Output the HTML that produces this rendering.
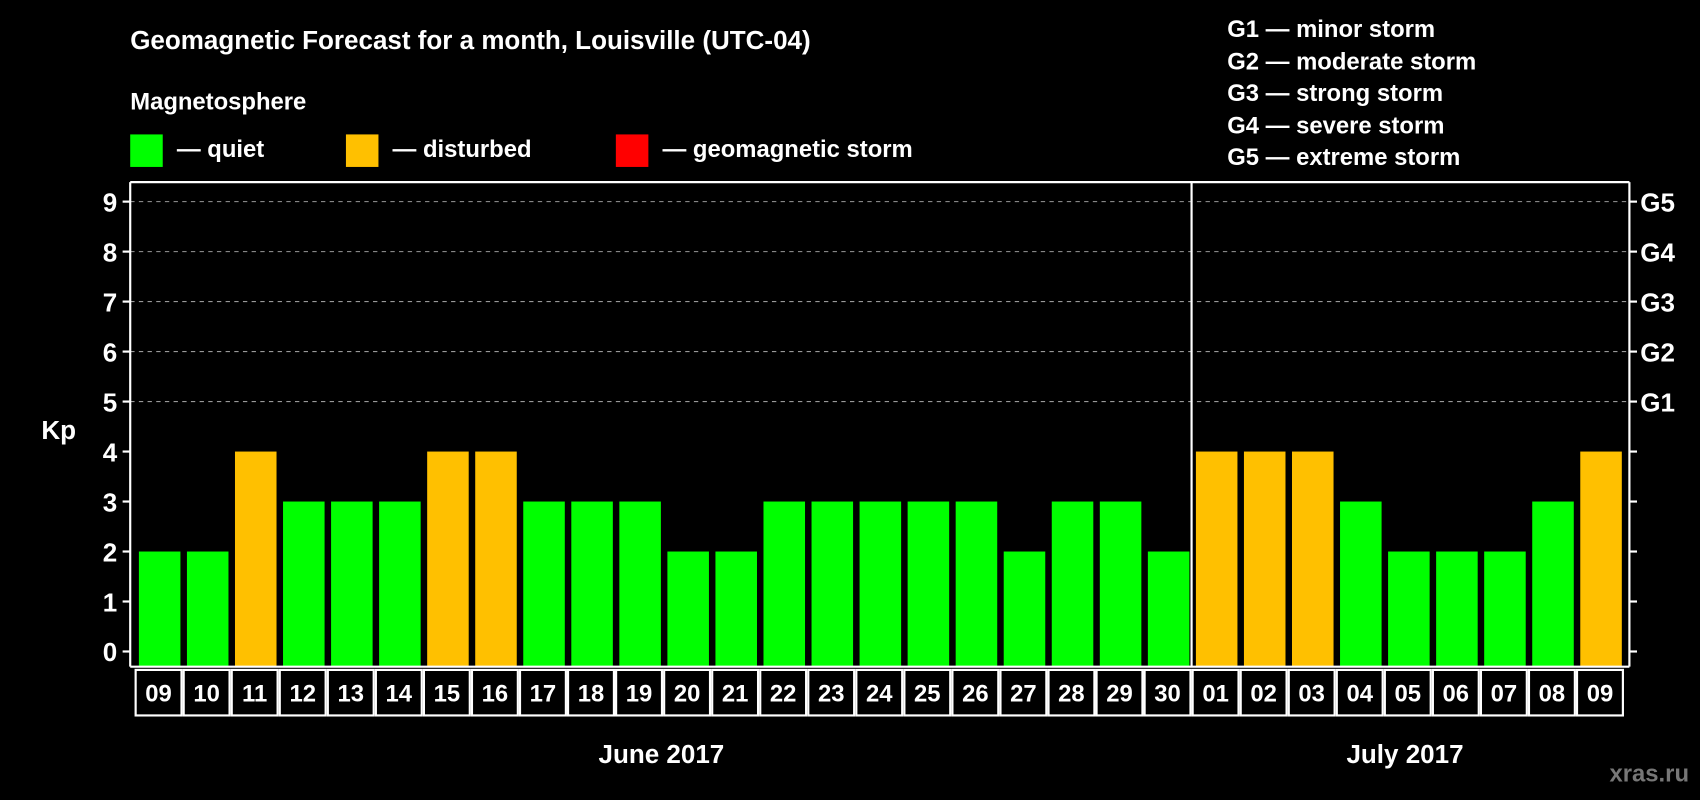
<!DOCTYPE html>
<html><head><meta charset="utf-8"><style>
html,body{margin:0;padding:0;background:#000;width:1700px;height:800px;overflow:hidden}
svg{display:block;font-family:"Liberation Sans",sans-serif;font-weight:bold}
</style></head><body>
<svg id="chart" width="1700" height="800" viewBox="0 0 1568 738" xmlns="http://www.w3.org/2000/svg">
<rect width="1568" height="738" fill="#000"/>
<text x="120" y="45" fill="#fff" font-size="24">Geomagnetic Forecast for a month, Louisville (UTC-04)</text>
<text x="120" y="101" fill="#fff" font-size="22">Magnetosphere</text>
<g><rect x="120" y="124" width="30" height="30" fill="#00ff00"/><text x="163" y="145" fill="#fff" font-size="22">— quiet</text></g>
<g><rect x="319" y="124" width="30" height="30" fill="#ffc000"/><text x="362" y="145" fill="#fff" font-size="22">— disturbed</text></g>
<g><rect x="568" y="124" width="30" height="30" fill="#ff0000"/><text x="611" y="145" fill="#fff" font-size="22">— geomagnetic storm</text></g>
<g fill="#fff" font-size="22">
<text x="1132" y="34">G1 — minor storm</text><text x="1132" y="64">G2 — moderate storm</text><text x="1132" y="93">G3 — strong storm</text><text x="1132" y="123">G4 — severe storm</text><text x="1132" y="152">G5 — extreme storm</text></g>
<text x="38" y="405" fill="#fff" font-size="24">Kp</text>
<text x="610" y="704" fill="#fff" font-size="24" text-anchor="middle">June 2017</text>
<text x="1296" y="704" fill="#fff" font-size="24" text-anchor="middle">July 2017</text>
<text x="1558" y="721" fill="#777" font-size="22" text-anchor="end">xras.ru</text>
<g id="plot"></g>
</svg>
<script>
const days=["09","10","11","12","13","14","15","16","17","18","19","20","21","22","23","24","25","26","27","28","29","30","01","02","03","04","05","06","07","08","09"];
const kpValues=[2,2,4,3,3,3,4,4,3,3,3,2,2,3,3,3,3,3,2,3,3,2,4,4,4,3,2,2,2,3,4];
const yTicks=[0,1,2,3,4,5,6,7,8,9];
const gLabels=["G1","G2","G3","G4","G5"];
const NS="http://www.w3.org/2000/svg";
const L=120,R=1503,T=168,B=615,x0=124,x1=1498;
const pitch=(x1-x0)/days.length;
const y=v=>601-v*(601-186)/9;
const g=document.getElementById('plot');
function mk(t,a){const e=document.createElementNS(NS,t);for(const k in a)e.setAttribute(k,a[k]);g.appendChild(e);return e;}
// grid
for(let v=5;v<=9;v++){const e=mk('line',{x1:L,x2:R,y1:y(v),y2:y(v),stroke:'#999','stroke-dasharray':'4 4','stroke-width':1});

}
// bars
kpValues.forEach((v,i)=>{const e=mk('rect',{x:x0+i*pitch+4,y:y(v),width:pitch-6,height:B-y(v),fill:v>=5?'#ff0000':v>=4?'#ffc000':'#00ff00'});

});
// axes
[[L,T,L,B],[R,T,R,B],[L,T,R,T],[L,B,R,B]].forEach(c=>{const e=mk('line',{x1:c[0],y1:c[1],x2:c[2],y2:c[3],stroke:'#fff','stroke-width':2});

});
const sep=mk('line',{x1:x0+22*pitch,x2:x0+22*pitch,y1:T,y2:B,stroke:'#fff','stroke-width':2});


yTicks.forEach(v=>{
 mk('line',{x1:L-7,x2:L,y1:y(v),y2:y(v),stroke:'#fff','stroke-width':2});
 mk('line',{x1:R,x2:R+7,y1:y(v),y2:y(v),stroke:'#fff','stroke-width':2});
 const t=mk('text',{x:L-12,y:y(v)+9,fill:'#fff','font-size':24,'text-anchor':'end'});t.textContent=v;
 
 
});
gLabels.forEach((s,i)=>{const t=mk('text',{x:R+10,y:y(5+i)+9,fill:'#fff','font-size':24});t.textContent=s;

});
days.forEach((d,i)=>{
 const r=mk('rect',{x:x0+i*pitch+1,y:618,width:pitch-2,height:42,fill:'none',stroke:'#fff','stroke-width':2});
 
 
 const t=mk('text',{x:x0+(i+.5)*pitch,y:647,fill:'#fff','font-size':22,'text-anchor':'middle'});t.textContent=d;
 
 
});
</script>
</body></html>
